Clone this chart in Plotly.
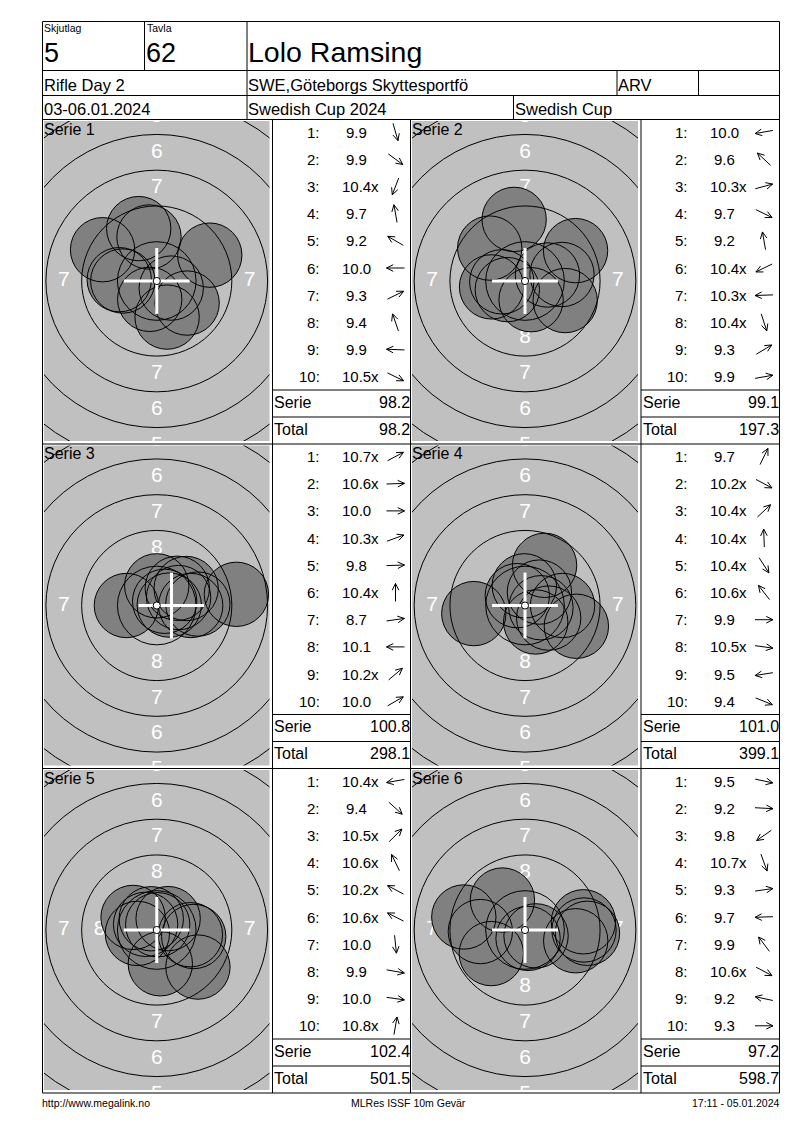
"""
Score card for a 10m air rifle match (MLRes print-out style)
Six series of ten shots, target pictures + shot tables
"""

import math
import plotly.graph_objects as go

# Header / footer texts
LABEL_GROUP = "Skjutlag"
LABEL_TARGET = "Tavla"
SHOOTING_GROUP = "5"
TARGET_NO = "62"
SHOOTER = "Lolo Ramsing"
EVENT = "Rifle Day 2"
CLUB = "SWE,Göteborgs Skyttesportfö"
SHOOTER_CLASS = "ARV"
DATES = "03-06.01.2024"
COMPETITION = "Swedish Cup 2024"
CUP = "Swedish Cup"
FOOT_LEFT = "http://www.megalink.no"
FOOT_MID = "MLRes ISSF 10m Gevär"
FOOT_RIGHT = "17:11 - 05.01.2024"

# Shot values and the direction (degrees, 0 = right, 90 = up) of each shot
SERIE_1 = ["9.9", "9.9", "10.4x", "9.7", "9.2", "10.0", "9.3", "9.4", "9.9", "10.5x"]
DIR_1 = [-74, -36, -111, 100, 150, 180, 26, 109, 178, -26]
SERIE_2 = ["10.0", "9.6", "10.3x", "9.7", "9.2", "10.4x", "10.3x", "10.4x", "9.3", "9.9"]
DIR_2 = [190, 137, 15, -26, 100, 206, 182, -72, 31, 10]
SERIE_3 = ["10.7x", "10.6x", "10.0", "10.3x", "9.8", "10.4x", "8.7", "10.1", "10.2x", "10.0"]
DIR_3 = [28, 2, 0, 20, 2, 90, 8, 180, 40, 30]
SERIE_4 = ["9.7", "10.2x", "10.4x", "10.4x", "10.4x", "10.6x", "9.9", "10.5x", "9.5", "9.4"]
DIR_4 = [64, -28, 43, 92, -57, 128, 0, -8, 189, -22]
SERIE_5 = ["10.4x", "9.4", "10.5x", "10.6x", "10.2x", "10.6x", "10.0", "9.9", "10.0", "10.8x"]
DIR_5 = [190, -42, 45, 116, 152, 153, -84, -10, -8, 80]
SERIE_6 = ["9.5", "9.2", "9.8", "10.7x", "9.3", "9.7", "9.9", "10.6x", "9.2", "9.3"]
DIR_6 = [-12, -3, -145, -70, 8, 182, 127, -28, 168, 0]

# Group centre cross as printed on each target (mm from the centre)
CROSS_X = [0.0, 0.0, 1.03, 0.0, 0.0, 0.0]
CROSS_Y = [0.0, 0.0, 0.0, 0.0, 0.0, 0.0]

SERIES = [SERIE_1, SERIE_2, SERIE_3, SERIE_4, SERIE_5, SERIE_6]
DIRS = [DIR_1, DIR_2, DIR_3, DIR_4, DIR_5, DIR_6]

# ISSF 10m air rifle target (mm)
RING_NUMBERS = [5, 6, 7, 8, 9]
LABEL_RINGS_V = [5, 6, 7, 8]      # numbers above / below the centre
LABEL_RINGS_H = [7, 8]            # numbers left / right of the centre
PELLET_R = 2.25
TEN_DOT_R = 0.25
CROSS_ARM = 2.3

# Page layout (pixels on the printed page)
OFFSET = 8                      # default body margin of the html page
PAGE_W, PAGE_H = 800, 1130
FIG_W, FIG_H = PAGE_W - 2 * OFFSET, PAGE_H - 2 * OFFSET
SCALE = 14.3                    # px per mm on the target pictures
COL_X = [42.5, 272.5, 410.5, 641.0, 779.5]
HEAD_Y = [21.5, 70.5, 95.5, 119.5]
PANEL_Y = [119.5, 444.0, 768.5, 1093.0]
ROW_STEP = 27.2

FONT = "Liberation Sans, Arial, sans-serif"
GRAY = "#c0c0c0"
SHOT_GRAY = "#808080"


def ring_radius(n):
    return 0.25 + 2.5 * (10 - n)


def shot_value(s):
    return float(s.rstrip("x"))


def shot_distance(s):
    return (11 - shot_value(s)) * 2.5 - 0.125


def fx(px):
    return (px - OFFSET) / FIG_W


def fy(py):
    return 1 - (py - OFFSET) / FIG_H


fig = go.Figure()
fig.update_layout(
    width=FIG_W, height=FIG_H,
    margin=dict(l=0, r=0, t=0, b=0),
    paper_bgcolor="white", plot_bgcolor="rgba(0,0,0,0)",
    showlegend=False,
    xaxis=dict(range=[OFFSET, OFFSET + FIG_W], visible=False, fixedrange=True),
    yaxis=dict(range=[OFFSET + FIG_H, OFFSET], visible=False, fixedrange=True),
)

line_x, line_y = [], []


def seg(x0, y0, x1, y1):
    line_x.extend([x0, x1, None])
    line_y.extend([y0, y1, None])


def label(x, y, text, size, anchor="left", color="black"):
    fig.add_annotation(x=x, y=y, xref="x", yref="y", text=text, showarrow=False,
                       xanchor=anchor, yanchor="middle", borderpad=0, borderwidth=0,
                       font=dict(family=FONT, size=size, color=color))


# header grid
for y in HEAD_Y:
    seg(COL_X[0], y, COL_X[-1], y)
seg(COL_X[0], HEAD_Y[0], COL_X[0], PANEL_Y[-1])
seg(COL_X[-1], HEAD_Y[0], COL_X[-1], PANEL_Y[-1])
seg(144.5, HEAD_Y[0], 144.5, HEAD_Y[1])
seg(247, HEAD_Y[0], 247, HEAD_Y[3])
seg(617, HEAD_Y[1], 617, HEAD_Y[2])
seg(698.5, HEAD_Y[1], 698.5, HEAD_Y[2])
seg(513.5, HEAD_Y[2], 513.5, HEAD_Y[3])

label(44, 28, LABEL_GROUP, 10.5)
label(146.5, 28, LABEL_TARGET, 10.5)
label(44, 52.5, SHOOTING_GROUP, 27)
label(145.5, 52.5, TARGET_NO, 27)
label(248, 51.5, SHOOTER, 28.5)
label(44, 84.5, EVENT, 16.5)
label(248, 84.5, CLUB, 16.5)
label(618, 84.5, SHOOTER_CLASS, 16.5)
label(44, 108.5, DATES, 16.5)
label(248, 108.5, COMPETITION, 16.5)
label(515, 108.5, CUP, 16.5)

# panel grid
for y in PANEL_Y:
    seg(COL_X[0], y, COL_X[-1], y)
for x in COL_X[1:4]:
    seg(x, PANEL_Y[0], x, PANEL_Y[-1])

arrow_x, arrow_y = [], []


def arrow(cx, cy, deg, length=18, head=7.5, spread=26):
    a = math.radians(deg)
    ux, uy = math.cos(a), -math.sin(a)
    tx, ty = cx + ux * length / 2, cy + uy * length / 2
    arrow_x.extend([cx - ux * length / 2, tx, None])
    arrow_y.extend([cy - uy * length / 2, ty, None])
    for s in (spread, -spread):
        b = a + math.pi + math.radians(s)
        arrow_x.extend([tx, tx + head * math.cos(b), None])
        arrow_y.extend([ty, ty - head * math.sin(b), None])


total = 0.0
for k, (shots, dirs) in enumerate(zip(SERIES, DIRS)):
    row, col = divmod(k, 2)
    top, bottom = PANEL_Y[row], PANEL_Y[row + 1]
    left, tgt_right, tab_right = COL_X[2 * col], COL_X[2 * col + 1], COL_X[2 * col + 2]
    tab_left = tgt_right

    # target picture as its own subplot in mm
    n = k + 2
    xr, yr = f"x{n}", f"y{n}"
    gx0, gx1 = left + 1.5, tgt_right - 3
    gy0, gy1 = top + 1.5, bottom - 3
    half_w = (gx1 - gx0) / 2 / SCALE
    half_h = (gy1 - gy0) / 2 / SCALE
    fig.update_layout(**{
        f"xaxis{n}": dict(domain=[fx(gx0), fx(gx1)], range=[-half_w, half_w], anchor=yr,
                          visible=False, fixedrange=True),
        f"yaxis{n}": dict(domain=[fy(gy1), fy(gy0)], range=[-half_h, half_h], anchor=xr,
                          visible=False, fixedrange=True),
    })
    fig.add_shape(type="rect", xref=f"{xr} domain", yref=f"{yr} domain",
                  x0=0, x1=1, y0=0, y1=1, fillcolor=GRAY, line_width=0, layer="below")

    # ring numbers (white), under the shots
    lx, ly, lt = [], [], []
    for ring in LABEL_RINGS_V:
        r = ring_radius(ring) - 1.25
        lx += [0, 0]
        ly += [r, -r]
        lt += [str(ring)] * 2
    for ring in LABEL_RINGS_H:
        r = ring_radius(ring) - 1.25
        lx += [-r, r]
        ly += [0, 0]
        lt += [str(ring)] * 2
    fig.add_trace(go.Scatter(x=lx, y=ly, text=lt, mode="text", xaxis=xr, yaxis=yr,
                             textfont=dict(family=FONT, size=21, color="white"),
                             hoverinfo="skip", cliponaxis=True))

    sx = [shot_distance(s) * math.cos(math.radians(d)) for s, d in zip(shots, dirs)]
    sy = [shot_distance(s) * math.sin(math.radians(d)) for s, d in zip(shots, dirs)]

    for x, y in zip(sx, sy):
        fig.add_shape(type="circle", xref=xr, yref=yr, layer="above",
                      x0=x - PELLET_R, x1=x + PELLET_R, y0=y - PELLET_R, y1=y + PELLET_R,
                      fillcolor=SHOT_GRAY, line_width=0)
    for ring in RING_NUMBERS:
        r = ring_radius(ring)
        fig.add_shape(type="circle", xref=xr, yref=yr, layer="above",
                      x0=-r, x1=r, y0=-r, y1=r, line=dict(color="black", width=1))
    for x, y in zip(sx, sy):
        fig.add_shape(type="circle", xref=xr, yref=yr, layer="above",
                      x0=x - PELLET_R, x1=x + PELLET_R, y0=y - PELLET_R, y1=y + PELLET_R,
                      line=dict(color="black", width=1))

    # group centre cross and the ten dot
    mx, my = CROSS_X[k], CROSS_Y[k]
    fig.add_shape(type="line", xref=xr, yref=yr, layer="above",
                  x0=mx - CROSS_ARM, x1=mx + CROSS_ARM, y0=my, y1=my,
                  line=dict(color="white", width=3))
    fig.add_shape(type="line", xref=xr, yref=yr, layer="above",
                  x0=mx, x1=mx, y0=my - CROSS_ARM, y1=my + CROSS_ARM,
                  line=dict(color="white", width=3))
    fig.add_shape(type="circle", xref=xr, yref=yr, layer="above",
                  x0=-TEN_DOT_R, x1=TEN_DOT_R, y0=-TEN_DOT_R, y1=TEN_DOT_R,
                  fillcolor="white", line=dict(color="black", width=1))

    label(left + 1.5, top + 9.5, f"Serie {k + 1}", 16)

    # shot table
    for i, (s, d) in enumerate(zip(shots, dirs)):
        ry = top + 12.5 + ROW_STEP * i
        label(tab_left + 47, ry, f"{i + 1}:", 15, "right")
        label(tab_left + 83.5, ry, s.rstrip("x"), 15, "center")
        if s.endswith("x"):
            label(tab_left + 98, ry, "x", 15)
        arrow(tab_left + 123, ry, d)

    serie_sum = round(sum(shot_value(s) for s in shots), 1)
    total = round(total + serie_sum, 1)
    seg(tab_left, top + 270.5, tab_right, top + 270.5)
    seg(tab_left, top + 297.5, tab_right, top + 297.5)
    label(tab_left + 1.5, top + 282.5, "Serie", 16)
    label(tab_right - 1, top + 282.5, f"{serie_sum:.1f}", 16, "right")
    label(tab_left + 1.5, top + 309.7, "Total", 16)
    label(tab_right - 1, top + 309.7, f"{total:.1f}", 16, "right")

fig.add_trace(go.Scatter(x=line_x, y=line_y, mode="lines", hoverinfo="skip",
                         line=dict(color="black", width=1)))
fig.add_trace(go.Scatter(x=arrow_x, y=arrow_y, mode="lines", hoverinfo="skip",
                         line=dict(color="black", width=1)))

label(42, 1103, FOOT_LEFT, 10.5)
label(408.5, 1103, FOOT_MID, 10.5, "center")
label(779.5, 1103, FOOT_RIGHT, 10.5, "right")

fig.write_html("out.html")
